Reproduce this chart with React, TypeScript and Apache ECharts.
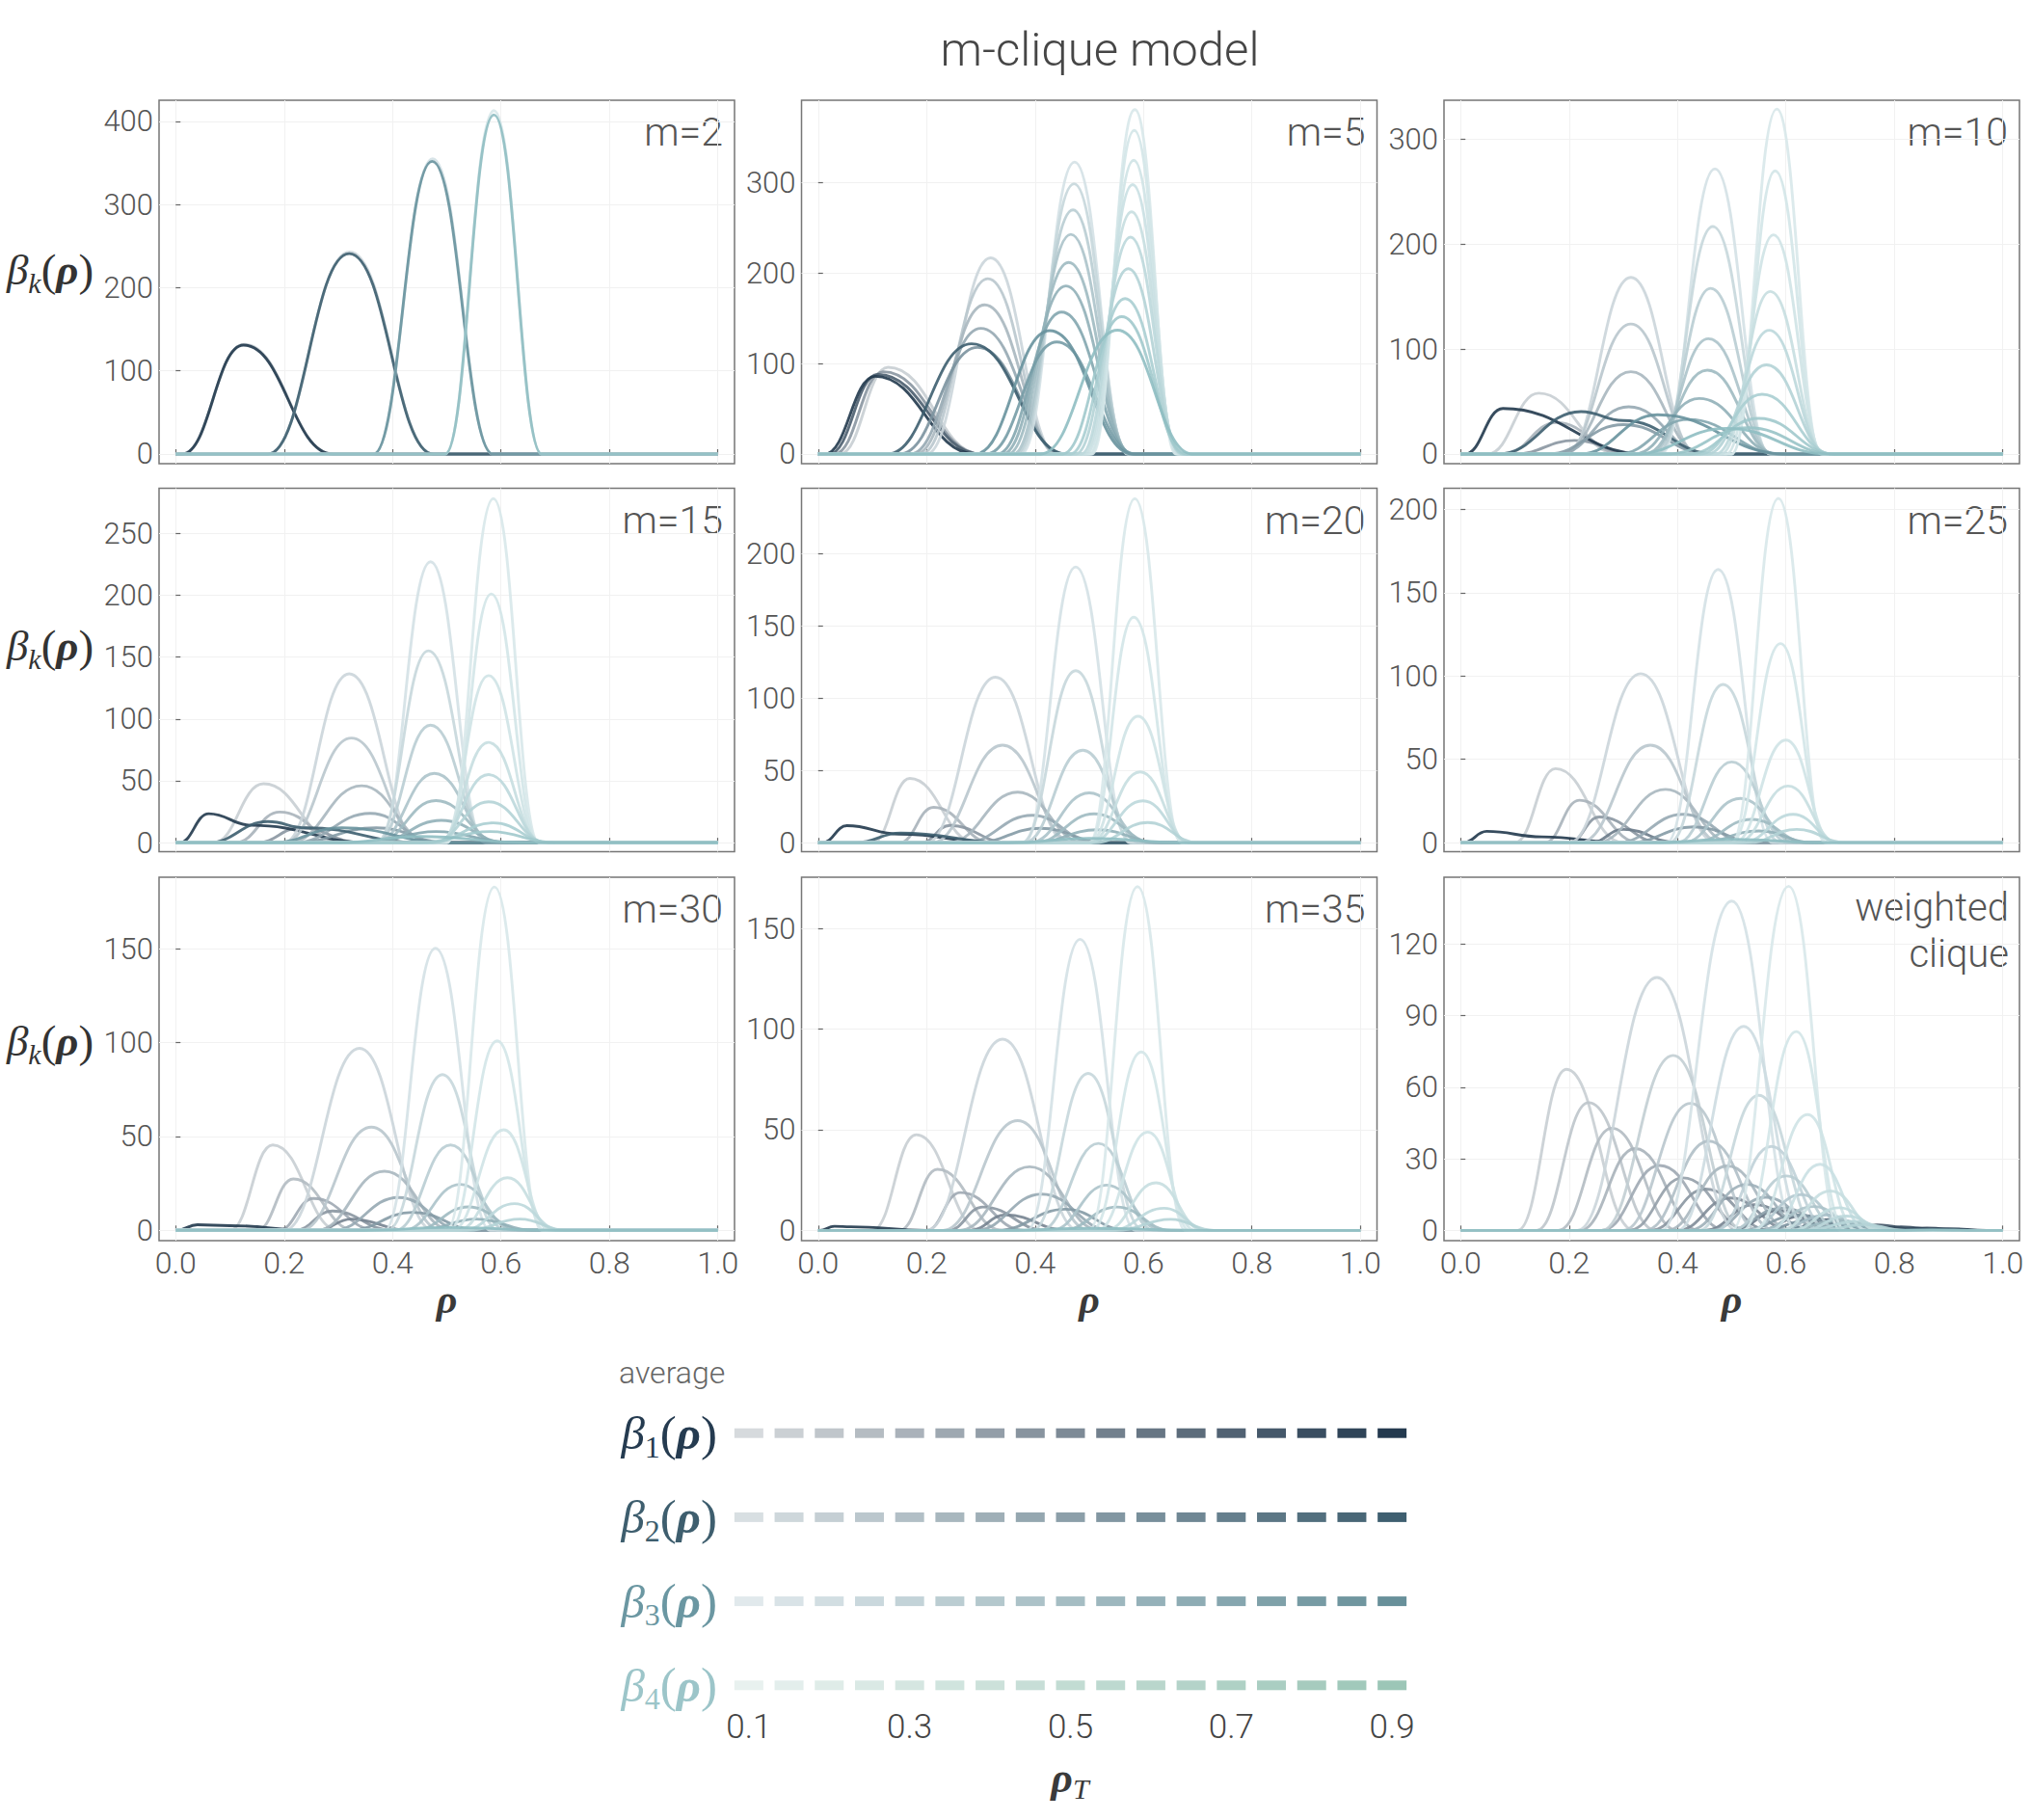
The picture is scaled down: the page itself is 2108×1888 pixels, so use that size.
import React, { useEffect, useRef } from 'react';
import * as echarts from 'echarts';

// ---------- data ----------
const RHO_T = [0.1, 0.15, 0.2, 0.25, 0.3, 0.35, 0.4, 0.45, 0.5, 0.55, 0.6, 0.65, 0.7, 0.75, 0.8, 0.85, 0.9];
const X_TICKS = [0, 0.2, 0.4, 0.6, 0.8, 1];
const PANEL_NAMES = ['m=2', 'm=5', 'm=10', 'm=15', 'm=20', 'm=25', 'm=30', 'm=35', 'weighted\nclique'];
const K_LABELS = ['1', '2', '3', '4'];

const Y_TICKS_M2 = [0, 100, 200, 300, 400];
const Y_TICKS_M5 = [0, 100, 200, 300];
const Y_TICKS_M10 = [0, 100, 200, 300];
const Y_TICKS_M15 = [0, 50, 100, 150, 200, 250];
const Y_TICKS_M20 = [0, 50, 100, 150, 200];
const Y_TICKS_M25 = [0, 50, 100, 150, 200];
const Y_TICKS_M30 = [0, 50, 100, 150];
const Y_TICKS_M35 = [0, 50, 100, 150];
const Y_TICKS_W = [0, 30, 60, 90, 120];

const Y_RANGE_M2 = [-11.6, 425.5];
const Y_RANGE_M5 = [-10.7, 391.4];
const Y_RANGE_M10 = [-9.2, 337.4];
const Y_RANGE_M15 = [-7.3, 286.4];
const Y_RANGE_M20 = [-6.2, 245.2];
const Y_RANGE_M25 = [-5.4, 212.7];
const Y_RANGE_M30 = [-5.5, 188.2];
const Y_RANGE_M35 = [-5.1, 175.4];
const Y_RANGE_W = [-4.3, 148];

// curve: [rhoT index, left foot, peak rho, right foot, peak value, (shoulder rho, shoulder value)]
const M2_B1 = [[0, 0.012, 0.126, 0.29, 132], [16, 0.012, 0.125, 0.29, 131]];
const M2_B2 = [[0, 0.17, 0.321, 0.475, 243], [16, 0.17, 0.32, 0.475, 241]];
const M2_B3 = [[0, 0.365, 0.474, 0.585, 355], [16, 0.365, 0.473, 0.585, 352]];
const M2_B4 = [[0, 0.497, 0.587, 0.675, 413], [16, 0.497, 0.587, 0.675, 408]];

const M5_B1 = [[0, 0.04, 0.129, 0.3, 96], [6, 0.03, 0.12, 0.3, 91], [12, 0.02, 0.11, 0.3, 88], [16, 0.012, 0.105, 0.29, 86]];
const M5_B2 = [[0, 0.2, 0.318, 0.44, 217], [2, 0.19, 0.313, 0.44, 194], [4, 0.18, 0.307, 0.445, 165], [6, 0.17, 0.3, 0.45, 139], [9, 0.15, 0.294, 0.455, 118], [16, 0.128, 0.283, 0.458, 122]];
const M5_B3 = [[0, 0.375, 0.473, 0.57, 323], [2, 0.37, 0.472, 0.572, 299], [4, 0.365, 0.47, 0.574, 270], [6, 0.36, 0.466, 0.576, 243], [8, 0.35, 0.462, 0.578, 212], [10, 0.34, 0.457, 0.58, 186], [12, 0.33, 0.449, 0.582, 157], [14, 0.31, 0.44, 0.585, 124], [16, 0.29, 0.427, 0.58, 136.5]];
const M5_B4 = [[0, 0.505, 0.584, 0.66, 381], [1, 0.503, 0.583, 0.662, 358], [2, 0.5, 0.582, 0.664, 325], [3, 0.495, 0.58, 0.666, 298], [4, 0.49, 0.578, 0.668, 268], [6, 0.485, 0.576, 0.67, 240], [8, 0.475, 0.572, 0.672, 205], [10, 0.465, 0.566, 0.675, 172], [12, 0.45, 0.56, 0.68, 152], [16, 0.41, 0.552, 0.69, 137]];

const M10_B1 = [[0, 0.05, 0.144, 0.29, 58], [3, 0.08, 0.177, 0.3, 30], [6, 0.1, 0.21, 0.32, 13], [16, 0.008, 0.078, 0.34, 43.5]];
const M10_B2 = [[0, 0.195, 0.314, 0.435, 168.5], [2, 0.19, 0.314, 0.44, 124], [4, 0.185, 0.314, 0.445, 78.5], [6, 0.18, 0.31, 0.45, 45], [8, 0.16, 0.3, 0.46, 28], [16, 0.07, 0.222, 0.47, 40.5, 0.3, 32]];
const M10_B3 = [[0, 0.37, 0.469, 0.57, 272], [2, 0.365, 0.465, 0.572, 217], [4, 0.36, 0.461, 0.575, 158], [6, 0.35, 0.457, 0.578, 110], [8, 0.34, 0.455, 0.58, 80], [10, 0.32, 0.44, 0.585, 53], [12, 0.29, 0.42, 0.59, 33], [16, 0.22, 0.363, 0.6, 37.4]];
const M10_B4 = [[0, 0.5, 0.583, 0.665, 329], [1, 0.5, 0.58, 0.667, 270], [2, 0.49, 0.577, 0.67, 209], [4, 0.48, 0.571, 0.672, 155], [6, 0.47, 0.569, 0.675, 118], [8, 0.455, 0.564, 0.68, 85], [10, 0.44, 0.556, 0.685, 57], [12, 0.42, 0.55, 0.69, 34], [14, 0.38, 0.53, 0.69, 25], [16, 0.32, 0.49, 0.68, 24.5]];

const M15_B1 = [[0, 0.07, 0.162, 0.3, 47.6], [3, 0.11, 0.192, 0.31, 24.7], [6, 0.15, 0.23, 0.34, 12], [16, 0.007, 0.061, 0.36, 23.4, 0.14, 14]];
const M15_B2 = [[0, 0.2, 0.32, 0.45, 136.4], [2, 0.2, 0.324, 0.455, 84.5], [4, 0.21, 0.343, 0.47, 46], [6, 0.22, 0.359, 0.48, 23.7], [8, 0.22, 0.37, 0.5, 12], [16, 0.06, 0.17, 0.45, 17, 0.24, 12]];
const M15_B3 = [[0, 0.375, 0.47, 0.57, 227], [2, 0.37, 0.466, 0.575, 155], [4, 0.37, 0.47, 0.58, 95], [6, 0.37, 0.477, 0.59, 56], [8, 0.37, 0.48, 0.6, 34], [10, 0.37, 0.49, 0.61, 18], [12, 0.35, 0.48, 0.62, 9], [16, 0.18, 0.306, 0.5, 12]];
const M15_B4 = [[0, 0.5, 0.586, 0.67, 278], [1, 0.5, 0.582, 0.67, 201], [2, 0.49, 0.577, 0.672, 135], [4, 0.485, 0.577, 0.675, 81], [6, 0.48, 0.577, 0.68, 55], [8, 0.475, 0.577, 0.685, 33], [10, 0.47, 0.586, 0.69, 16], [12, 0.45, 0.58, 0.7, 9], [16, 0.3, 0.45, 0.65, 5]];

const M20_B1 = [[0, 0.1, 0.169, 0.29, 44.5], [3, 0.15, 0.213, 0.32, 24.5], [6, 0.19, 0.243, 0.35, 12], [16, 0.008, 0.053, 0.33, 11.8, 0.15, 6]];
const M20_B2 = [[0, 0.2, 0.327, 0.46, 114.5], [2, 0.21, 0.34, 0.47, 67.5], [4, 0.24, 0.368, 0.49, 35], [6, 0.27, 0.395, 0.51, 19], [8, 0.29, 0.41, 0.53, 10], [16, 0.07, 0.152, 0.35, 6.7]];
const M20_B3 = [[0, 0.38, 0.475, 0.575, 190.8], [2, 0.375, 0.475, 0.58, 119], [4, 0.38, 0.488, 0.595, 64], [6, 0.39, 0.5, 0.61, 34.5], [8, 0.4, 0.509, 0.62, 20], [10, 0.4, 0.515, 0.63, 9]];
const M20_B4 = [[0, 0.5, 0.584, 0.67, 238], [1, 0.5, 0.582, 0.672, 156], [2, 0.5, 0.59, 0.68, 87.5], [4, 0.5, 0.594, 0.685, 49], [6, 0.5, 0.599, 0.69, 29], [8, 0.51, 0.608, 0.7, 14], [16, 0.35, 0.5, 0.68, 3]];

const M25_B1 = [[0, 0.1, 0.175, 0.3, 44.4], [3, 0.155, 0.219, 0.33, 25.5], [6, 0.2, 0.256, 0.37, 15.4], [9, 0.24, 0.3, 0.4, 8], [16, 0.005, 0.048, 0.3, 6.8, 0.15, 3.5]];
const M25_B2 = [[0, 0.2, 0.332, 0.47, 101.4], [2, 0.22, 0.35, 0.48, 58.5], [4, 0.25, 0.378, 0.5, 32], [6, 0.29, 0.41, 0.53, 17], [8, 0.31, 0.43, 0.55, 9.5]];
const M25_B3 = [[0, 0.38, 0.475, 0.575, 164], [2, 0.385, 0.484, 0.59, 95], [4, 0.4, 0.5, 0.605, 48.5], [6, 0.41, 0.516, 0.62, 26.6], [8, 0.43, 0.537, 0.64, 14], [10, 0.44, 0.55, 0.65, 7]];
const M25_B4 = [[0, 0.5, 0.586, 0.672, 206.6], [1, 0.5, 0.59, 0.677, 119.5], [2, 0.505, 0.6, 0.687, 61.6], [4, 0.51, 0.604, 0.695, 34], [6, 0.52, 0.613, 0.7, 17], [8, 0.53, 0.62, 0.71, 8], [16, 0.35, 0.5, 0.68, 2]];

const M30_B1 = [[0, 0.1, 0.179, 0.3, 45.5], [2, 0.15, 0.217, 0.33, 27.4], [4, 0.19, 0.254, 0.37, 17], [6, 0.22, 0.289, 0.4, 10.3], [8, 0.26, 0.324, 0.43, 6], [16, 0.002, 0.04, 0.25, 3, 0.1, 2.5]];
const M30_B2 = [[0, 0.2, 0.339, 0.475, 97], [2, 0.23, 0.361, 0.49, 55], [4, 0.26, 0.385, 0.51, 31.5], [6, 0.29, 0.411, 0.53, 17.5], [8, 0.32, 0.437, 0.56, 9.6]];
const M30_B3 = [[0, 0.385, 0.479, 0.58, 150.3], [2, 0.39, 0.492, 0.595, 83], [4, 0.405, 0.507, 0.61, 45.5], [6, 0.42, 0.525, 0.625, 24.5], [8, 0.44, 0.54, 0.64, 12.5], [10, 0.45, 0.555, 0.66, 6]];
const M30_B4 = [[0, 0.5, 0.588, 0.675, 183], [1, 0.505, 0.593, 0.68, 101], [2, 0.51, 0.605, 0.69, 53.6], [4, 0.52, 0.612, 0.7, 28], [6, 0.53, 0.625, 0.71, 14.2], [8, 0.54, 0.635, 0.72, 6], [16, 0.35, 0.5, 0.7, 1.5]];

const M35_B1 = [[0, 0.1, 0.181, 0.3, 47.5], [2, 0.15, 0.22, 0.34, 30.3], [4, 0.2, 0.262, 0.38, 18.8], [6, 0.24, 0.304, 0.42, 11.6], [8, 0.28, 0.346, 0.46, 7.7], [16, 0.003, 0.03, 0.2, 2, 0.06, 1.8]];
const M35_B2 = [[0, 0.2, 0.34, 0.48, 95], [2, 0.23, 0.368, 0.5, 54.5], [4, 0.26, 0.39, 0.52, 31.6], [6, 0.29, 0.412, 0.54, 18], [8, 0.33, 0.456, 0.57, 10.5]];
const M35_B3 = [[0, 0.385, 0.483, 0.585, 144.6], [2, 0.395, 0.498, 0.6, 78], [4, 0.41, 0.517, 0.62, 43.2], [6, 0.43, 0.532, 0.635, 22.5], [8, 0.45, 0.551, 0.65, 11.6]];
const M35_B4 = [[0, 0.5, 0.589, 0.677, 170.7], [1, 0.505, 0.596, 0.685, 88.6], [2, 0.515, 0.608, 0.695, 48.8], [4, 0.53, 0.623, 0.71, 23.6], [6, 0.54, 0.638, 0.72, 11], [8, 0.55, 0.65, 0.73, 5.5], [16, 0.35, 0.5, 0.7, 1]];

const W_B1 = [[0, 0.105, 0.195, 0.32, 67.5], [1, 0.14, 0.236, 0.36, 53.5], [2, 0.18, 0.279, 0.4, 42.8], [3, 0.22, 0.322, 0.44, 34.3], [4, 0.26, 0.367, 0.49, 27.2], [5, 0.31, 0.41, 0.53, 22], [6, 0.35, 0.452, 0.57, 17.3], [7, 0.4, 0.497, 0.61, 13.6], [8, 0.45, 0.542, 0.65, 10.8], [9, 0.5, 0.587, 0.69, 8.3], [10, 0.55, 0.631, 0.73, 6.2], [11, 0.6, 0.676, 0.77, 4.5], [12, 0.65, 0.722, 0.81, 3.2], [13, 0.7, 0.768, 0.85, 2.3], [14, 0.74, 0.812, 0.89, 1.5], [15, 0.79, 0.86, 0.93, 1], [16, 0.83, 0.9, 0.97, 0.7]];
const W_B2 = [[0, 0.215, 0.362, 0.51, 106], [1, 0.26, 0.392, 0.52, 73.3], [2, 0.3, 0.424, 0.55, 53.2], [3, 0.34, 0.458, 0.58, 37.4], [4, 0.38, 0.492, 0.61, 27], [5, 0.42, 0.528, 0.64, 19.3], [6, 0.46, 0.563, 0.67, 13.9], [7, 0.49, 0.593, 0.7, 9.4], [8, 0.52, 0.622, 0.72, 6.5], [9, 0.55, 0.65, 0.75, 4.5], [10, 0.58, 0.677, 0.77, 3], [11, 0.61, 0.703, 0.8, 2], [12, 0.64, 0.73, 0.82, 1.3]];
const W_B3 = [[0, 0.37, 0.5, 0.62, 138], [1, 0.4, 0.522, 0.64, 85.5], [2, 0.44, 0.55, 0.66, 56.6], [3, 0.47, 0.573, 0.68, 35.2], [4, 0.5, 0.601, 0.7, 22.8], [5, 0.53, 0.628, 0.72, 15], [6, 0.55, 0.652, 0.74, 10], [7, 0.58, 0.676, 0.76, 6.5], [8, 0.6, 0.7, 0.78, 4.2], [9, 0.62, 0.722, 0.8, 2.8], [10, 0.65, 0.745, 0.82, 1.8]];
const W_B4 = [[0, 0.5, 0.605, 0.7, 144.2], [1, 0.52, 0.619, 0.71, 83.3], [2, 0.54, 0.64, 0.73, 48.5], [3, 0.57, 0.663, 0.75, 27.7], [4, 0.59, 0.682, 0.77, 16.5], [5, 0.61, 0.698, 0.78, 9.5], [6, 0.63, 0.712, 0.79, 6], [7, 0.64, 0.728, 0.8, 3.8], [8, 0.66, 0.745, 0.82, 2.4], [16, 0.8, 0.87, 0.95, 0.3]];

// ---------- styles / layout ----------
const FONT = 'Roboto, "Liberation Sans", sans-serif';
const SERIF = '"Liberation Serif", "DejaVu Serif", serif';
const COL_LEFT = [165, 831.5, 1498];
const ROW_TOP = [104, 506.5, 910];
const PW = 597;
const PH = 377;
const X_MIN = -0.0307;
const X_MAX = 1.0307;
const BETA_LABEL_Y = [280, 670, 1080];

const CURVE_LIGHT = [[200, 206, 211], [203, 213, 218], [212, 225, 229], [216, 232, 234]];
const CURVE_DARK = [[33, 56, 77], [61, 94, 111], [104, 146, 157], [143, 190, 194]];
const LEG_LIGHT = [[214, 218, 221], [216, 223, 226], [225, 233, 236], [232, 241, 239]];
const LEG_DARK = [[36, 58, 79], [63, 95, 112], [104, 144, 154], [156, 198, 183]];
const LABEL_COLORS = ['#253b50', '#3e5e6e', '#6b97a2', '#9cc5c9'];

function mix(a: number[], b: number[], f: number) {
  const c = a.map((v, i) => Math.round(v + (b[i] - v) * f));
  return `rgb(${c[0]},${c[1]},${c[2]})`;
}

function curvePoints(c: number[]) {
  const [, xl, xp, xr, h, sx, sy] = c;
  const pts: number[][] = [[0, 0], [xl, 0], [xp, h]];
  if (sx !== undefined) pts.push([sx, sy]);
  pts.push([xr, 0], [1, 0]);
  return pts;
}

const PANELS = [
  { name: PANEL_NAMES[0], ticks: Y_TICKS_M2, range: Y_RANGE_M2, curves: [M2_B1, M2_B2, M2_B3, M2_B4] },
  { name: PANEL_NAMES[1], ticks: Y_TICKS_M5, range: Y_RANGE_M5, curves: [M5_B1, M5_B2, M5_B3, M5_B4] },
  { name: PANEL_NAMES[2], ticks: Y_TICKS_M10, range: Y_RANGE_M10, curves: [M10_B1, M10_B2, M10_B3, M10_B4] },
  { name: PANEL_NAMES[3], ticks: Y_TICKS_M15, range: Y_RANGE_M15, curves: [M15_B1, M15_B2, M15_B3, M15_B4] },
  { name: PANEL_NAMES[4], ticks: Y_TICKS_M20, range: Y_RANGE_M20, curves: [M20_B1, M20_B2, M20_B3, M20_B4] },
  { name: PANEL_NAMES[5], ticks: Y_TICKS_M25, range: Y_RANGE_M25, curves: [M25_B1, M25_B2, M25_B3, M25_B4] },
  { name: PANEL_NAMES[6], ticks: Y_TICKS_M30, range: Y_RANGE_M30, curves: [M30_B1, M30_B2, M30_B3, M30_B4] },
  { name: PANEL_NAMES[7], ticks: Y_TICKS_M35, range: Y_RANGE_M35, curves: [M35_B1, M35_B2, M35_B3, M35_B4] },
  { name: PANEL_NAMES[8], ticks: Y_TICKS_W, range: Y_RANGE_W, curves: [W_B1, W_B2, W_B3, W_B4] },
];

function txt(text: string, x: number, y: number, size: number, color: string, align: string, extra: any = {}) {
  return {
    type: 'text', x, y, silent: true,
    style: {
      text, fill: color, fontSize: size, fontFamily: FONT, fontWeight: 300,
      textAlign: align, align, textVerticalAlign: 'middle', verticalAlign: 'middle', ...extra,
    },
  };
}

function buildOption() {
  const grid: any[] = [];
  const xAxis: any[] = [];
  const yAxis: any[] = [];
  const series: any[] = [];
  const graphic: any[] = [];

  graphic.push(txt('m-clique model', 1141, 51, 49, '#464646', 'center'));

  PANELS.forEach((p, i) => {
    const row = Math.floor(i / 3);
    const col = i % 3;
    const left = COL_LEFT[col];
    const top = ROW_TOP[row];
    grid.push({ left, top, width: PW, height: PH, show: true, borderColor: '#767676', borderWidth: 1.5, backgroundColor: 'transparent' });
    xAxis.push({
      type: 'value', gridIndex: i, min: X_MIN, max: X_MAX,
      axisLine: { show: false },
      axisTick: { show: true, inside: true, length: 5, customValues: X_TICKS, lineStyle: { color: '#666', width: 1.2 } },
      axisLabel: {
        show: row === 2, customValues: X_TICKS, margin: 7,
        formatter: (v: number) => (Math.abs(v * 5 - Math.round(v * 5)) < 1e-6 ? v.toFixed(1) : ''),
        fontSize: 32, color: '#555', fontFamily: FONT, fontWeight: 300,
      },
      splitLine: { show: true, lineStyle: { color: '#f1f1f1', width: 1 } },
      name: row === 2 ? 'ρ' : '', nameLocation: 'middle', nameGap: 21,
      nameTextStyle: { fontSize: 42, fontStyle: 'italic', fontWeight: 'bold', fontFamily: SERIF, color: '#3a3a3a' },
    });
    const step = p.ticks[1] - p.ticks[0];
    yAxis.push({
      type: 'value', gridIndex: i, min: p.range[0], max: p.range[1],
      axisLine: { show: false },
      axisTick: { show: true, inside: true, length: 5, customValues: p.ticks, lineStyle: { color: '#666', width: 1.2 } },
      axisLabel: {
        customValues: p.ticks, margin: 6,
        formatter: (v: number) => (Math.abs(v / step - Math.round(v / step)) < 1e-6 && v >= 0 ? String(Math.round(v)) : ''),
        fontSize: 31, color: '#555', fontFamily: FONT, fontWeight: 300,
      },
      splitLine: { show: true, lineStyle: { color: '#f1f1f1', width: 1 } },
    });
    p.curves.forEach((group, k) => {
      group.forEach((c) => {
        series.push({
          type: 'line', xAxisIndex: i, yAxisIndex: i, data: curvePoints(c),
          symbol: 'none', showSymbol: false, smooth: 0.45, smoothMonotone: 'x',
          lineStyle: { color: mix(CURVE_LIGHT[k], CURVE_DARK[k], c[0] / 16), width: 2.9, opacity: 0.9 },
          silent: true, z: 2,
        });
      });
    });
    const lines = p.name.split('\n');
    if (lines.length === 1) {
      graphic.push(txt(lines[0], left + PW - 12, top + 33, 41, '#555', 'right'));
    } else {
      lines.forEach((l, j) => graphic.push(txt(l, left + PW - 11, top + 31 + j * 48, 40, '#555', 'right')));
    }
  });

  // left β_k(ρ) labels
  BETA_LABEL_Y.forEach((y) => {
    graphic.push({
      type: 'text', x: 52, y, silent: true,
      style: {
        text: '{b|β}{s|k}{p|(}{r|ρ}{p|)}',
        textAlign: 'center', align: 'center', textVerticalAlign: 'middle', verticalAlign: 'middle',
        fill: '#333',
        rich: {
          b: { fontSize: 45, fontStyle: 'italic', fontFamily: SERIF, fill: '#333', lineHeight: 56, verticalAlign: 'middle' },
          s: { fontSize: 30, fontStyle: 'italic', fontFamily: SERIF, fill: '#333', lineHeight: 56, verticalAlign: 'bottom' },
          p: { fontSize: 47, fontFamily: SERIF, fill: '#333', lineHeight: 56, verticalAlign: 'middle' },
          r: { fontSize: 45, fontStyle: 'italic', fontWeight: 'bold', fontFamily: SERIF, fill: '#333', lineHeight: 56, verticalAlign: 'middle' },
        },
      },
    });
  });

  // legend block
  const li = PANELS.length;
  grid.push({ left: 756, top: 1486.7, width: 709, height: 261.6, show: false });
  xAxis.push({
    type: 'category', gridIndex: li, data: RHO_T.map((v) => String(v)), boundaryGap: true,
    axisLine: { show: false }, axisTick: { show: false }, splitLine: { show: false },
    axisLabel: { interval: 3, fontSize: 35, color: '#444', fontFamily: FONT, fontWeight: 300, margin: 26 },
  });
  const rich: any = {};
  K_LABELS.forEach((k, idx) => {
    const color = LABEL_COLORS[idx];
    rich['b' + k] = { fontSize: 49, fontStyle: 'italic', fontFamily: SERIF, color, lineHeight: 60, verticalAlign: 'middle' };
    rich['s' + k] = { fontSize: 32, fontFamily: SERIF, color, lineHeight: 60, verticalAlign: 'bottom' };
    rich['p' + k] = { fontSize: 51, fontFamily: SERIF, color, lineHeight: 60, verticalAlign: 'middle' };
    rich['r' + k] = { fontSize: 49, fontStyle: 'italic', fontWeight: 'bold', fontFamily: SERIF, color, lineHeight: 60, verticalAlign: 'middle' };
  });
  yAxis.push({
    type: 'category', gridIndex: li, data: K_LABELS, inverse: true, boundaryGap: false,
    axisLine: { show: false }, axisTick: { show: false }, splitLine: { show: false },
    axisLabel: {
      margin: 12,
      formatter: (v: string) => `{b${v}|β}{s${v}|${v}}{p${v}|(}{r${v}|ρ}{p${v}|)}`,
      rich,
    },
  });
  const dashData: any[] = [];
  K_LABELS.forEach((_, k) => {
    RHO_T.forEach((_, t) => {
      dashData.push({ value: [t, k], itemStyle: { color: mix(LEG_LIGHT[k], LEG_DARK[k], t / 16), opacity: 1 } });
    });
  });
  series.push({
    type: 'scatter', xAxisIndex: li, yAxisIndex: li, data: dashData,
    symbol: 'rect', symbolSize: [30, 10], silent: true, itemStyle: { opacity: 1 },
  });

  graphic.push(txt('average', 642, 1424, 32, '#666', 'left'));
  graphic.push({
    type: 'text', x: 1110, y: 1844, silent: true,
    style: {
      text: '{r|ρ}{s|T}',
      textAlign: 'center', align: 'center', textVerticalAlign: 'middle', verticalAlign: 'middle',
      fill: '#3a3a3a',
      rich: {
        r: { fontSize: 44, fontStyle: 'italic', fontWeight: 'bold', fontFamily: SERIF, fill: '#3a3a3a', lineHeight: 52, verticalAlign: 'middle' },
        s: { fontSize: 30, fontStyle: 'italic', fontFamily: SERIF, fill: '#3a3a3a', lineHeight: 52, verticalAlign: 'bottom' },
      },
    },
  });

  return {
    animation: false,
    backgroundColor: '#ffffff',
    textStyle: { fontFamily: FONT },
    grid, xAxis, yAxis, series, graphic,
  };
}

export default function App() {
  const ref = useRef<HTMLDivElement>(null);
  useEffect(() => {
    if (!ref.current) return;
    const chart = echarts.init(ref.current, undefined, { renderer: 'svg' });
    chart.setOption(buildOption() as any);
    return () => chart.dispose();
  }, []);
  return (
    <div
      ref={ref}
      style={{ position: 'absolute', left: 0, top: 0, width: 2108, height: 1888, background: '#fff' }}
    />
  );
}
